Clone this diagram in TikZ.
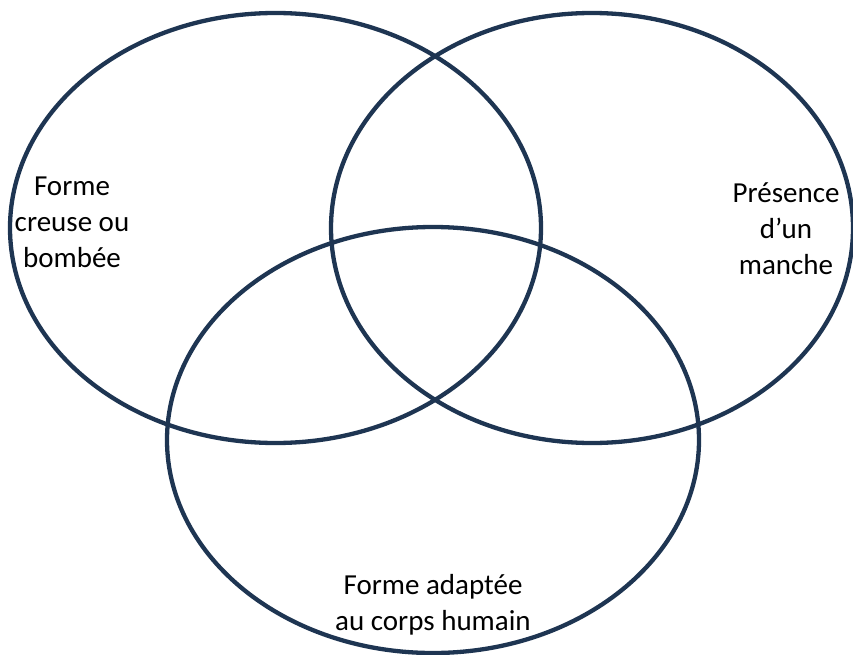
\documentclass[tikz,border=0pt]{standalone}
\usepackage{fontspec}
\setmainfont{Carlito}
\definecolor{navy}{RGB}{30,53,82}
\begin{document}
\begin{tikzpicture}[x=1pt,y=-1pt,
  ring/.style={draw=navy,line width=4.3pt},
  lbl/.style={align=center,font=\fontsize{29}{36}\selectfont,text=black,inner sep=0pt}]
\useasboundingbox (0,0) rectangle (853,655);
\draw[ring] (275.5,228) ellipse [x radius=265.5, y radius=215];
\draw[ring] (592,228) ellipse [x radius=261, y radius=215];
\draw[ring] (433,440) ellipse [x radius=266, y radius=213];
\node[lbl] (a) at (72,222) {Forme\\creuse ou\\bombée};
\node[lbl] (b) at (786,229) {Présence\\d’un\\manche};
\node[lbl] (c) at (433,605) {Forme adaptée\\au corps humain};
\end{tikzpicture}
\end{document}
